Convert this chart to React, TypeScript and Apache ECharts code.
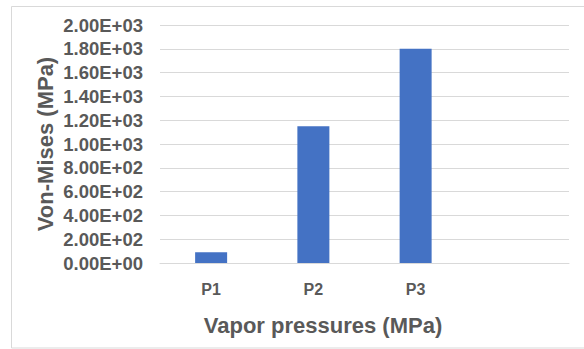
import React, { useEffect, useRef } from "react";
import * as echarts from "echarts";

const categories = ["P1", "P2", "P3", ""];
const vonMises = [90, 1150, 1800, null];
const yTitle = "Von-Mises (MPa)";
const xTitle = "Vapor pressures (MPa)";

const gray = "#595959";
const font = "'Liberation Sans', Arial, sans-serif";

export default function App() {
  const ref = useRef<HTMLDivElement>(null);
  useEffect(() => {
    const chart = echarts.init(ref.current!, null, { renderer: "svg" });
    chart.setOption({
      animation: false,
      backgroundColor: "#ffffff",
      grid: { left: 160, right: 15, top: 25, bottom: 86, containLabel: false },
      xAxis: {
        type: "category",
        data: categories,
        axisLine: { show: true, lineStyle: { color: "#d9d9d9", width: 1 } },
        axisTick: { show: false },
        axisLabel: {
          color: gray,
          fontFamily: font,
          fontWeight: "bold",
          fontSize: 16,
          margin: 18,
        },
      },
      yAxis: {
        type: "value",
        min: 0,
        max: 2000,
        interval: 200,
        axisLine: { show: false },
        axisTick: { show: false },
        splitLine: { lineStyle: { color: "#d9d9d9", width: 1 } },
        axisLabel: {
          color: gray,
          fontFamily: font,
          fontWeight: "bold",
          fontSize: 18.5,
          margin: 17,
          formatter: (v: number) => {
            const s = v.toExponential(2).toUpperCase();
            return s.replace(/E([+-])(\d)$/, "E$10$2");
          },
        },
      },
      series: [
        {
          type: "bar",
          data: vonMises,
          barWidth: 32,
          itemStyle: { color: "#4472c4" },
        },
      ],
      graphic: [
        {
          type: "rect",
          shape: { x: 11.5, y: 6.5, width: 620, height: 341.5 },
          style: { fill: "none", stroke: "#d9d9d9", lineWidth: 1 },
          silent: true,
        },
        {
          type: "text",
          x: 45,
          y: 144,
          rotation: Math.PI / 2,
          style: {
            text: yTitle,
            fill: gray,
            font: `bold 22px ${font}`,
            textAlign: "center",
            textVerticalAlign: "middle",
          },
        },
        {
          type: "text",
          x: 323,
          y: 325,
          style: {
            text: xTitle,
            fill: gray,
            font: `bold 22px ${font}`,
            textAlign: "center",
            textVerticalAlign: "middle",
          },
        },
      ],
    });
    return () => chart.dispose();
  }, []);
  return (
    <div
      ref={ref}
      style={{ position: "fixed", left: 0, top: 0, width: 584, height: 349 }}
    />
  );
}
